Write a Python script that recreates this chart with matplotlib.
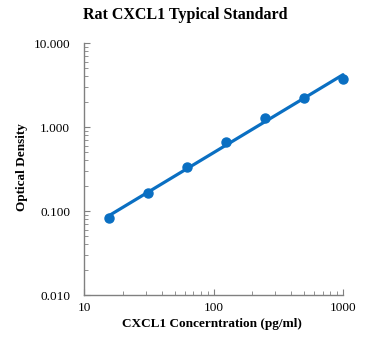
import numpy as np
import matplotlib
matplotlib.use("Agg")
import matplotlib.pyplot as plt
from matplotlib.ticker import LogLocator, NullFormatter

conc = [15.6, 31.25, 62.5, 125, 250, 500, 1000]
od = [0.082, 0.163, 0.331, 0.657, 1.27, 2.23, 3.73]
x_ticks = [10, 100, 1000]
x_labels = ["10", "100", "1000"]
y_ticks = [0.01, 0.1, 1, 10]
y_labels = ["0.010", "0.100", "1.000", "10.000"]

plt.rcParams['font.family'] = ['Liberation Serif', 'DejaVu Serif']
color = "#0a6fc2"

fig = plt.figure(figsize=(3.70, 3.51), dpi=100)
ax = fig.add_axes([84/370, 1-295/351, (343-84)/370, (295-43)/351])

# power trendline fit in log-log space
lx, ly = np.log10(conc), np.log10(od)
b, a = np.polyfit(lx, ly, 1)
xs = np.array([conc[0], conc[-1]])
ax.plot(xs, 10**(a + b*np.log10(xs)), color=color, lw=2.3, solid_capstyle='round',
        zorder=2, clip_on=False)
ax.plot(conc, od, 'o', color=color, ms=6.5, zorder=3, clip_on=False)

ax.set_xscale('log')
ax.set_yscale('log')
ax.set_xlim(10, 1000)
ax.set_ylim(0.01, 10)
ax.set_xticks(x_ticks)
ax.set_xticklabels(x_labels)
ax.set_yticks(y_ticks)
ax.set_yticklabels(y_labels)
ax.xaxis.set_minor_locator(LogLocator(base=10, subs=np.arange(2, 10)))
ax.yaxis.set_minor_locator(LogLocator(base=10, subs=np.arange(2, 10)))
ax.xaxis.set_minor_formatter(NullFormatter())
ax.yaxis.set_minor_formatter(NullFormatter())

for s in ['top', 'right']:
    ax.spines[s].set_visible(False)
for s in ['left', 'bottom']:
    ax.spines[s].set_color('#808080')
    ax.spines[s].set_linewidth(1.0)
ax.tick_params(which='major', direction='in', length=4, color='#808080', labelsize=9.5, labelcolor='black')
ax.tick_params(which='minor', direction='in', length=3, color='#808080')
ax.tick_params(axis='y', which='major', pad=10)
ax.tick_params(axis='x', which='major', pad=5)

fig.text(212/370, 1-324/351, "CXCL1 Concerntration (pg/ml)", ha='center', va='center',
         fontsize=9.5, fontweight='bold')
fig.text(22/370, 1-167/351, "Optical Density", ha='center', va='center', rotation=90,
         fontsize=9.5, fontweight='bold')
fig.text(185/370, 1-15/351, "Rat CXCL1 Typical Standard", ha='center', va='center',
         fontsize=11.5, fontweight='bold')

fig.savefig("out.png", dpi=100)
